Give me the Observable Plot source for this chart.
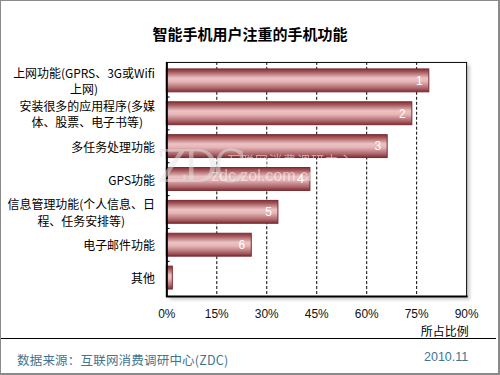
<!DOCTYPE html>
<html>
<head>
<meta charset="utf-8">
<script src="https://cdn.jsdelivr.net/npm/d3@7"></script>
<script src="https://cdn.jsdelivr.net/npm/@observablehq/plot@0.6"></script>
<style>
  html, body { margin: 0; padding: 0; background: #fff; }
  #wrap {
    position: relative; width: 500px; height: 375px; box-sizing: border-box;
    border-top: 1px solid #8a8a8a; border-left: 1px solid #8a8a8a;
    border-right: 2px solid #8a8a8a; border-bottom: 2px solid #8a8a8a;
    overflow: hidden; font-family: "Liberation Sans", Arial, "Noto Sans CJK SC", sans-serif;
  }
  #title {
    position: absolute; left: 0; top: 22px; width: 498px; text-align: center;
    font-family: "Noto Sans CJK SC", sans-serif; font-weight: bold; font-size: 15px; color: #000;
  }
  #chart { position: absolute; left: -1px; top: 47px; }
  #rule { position: absolute; left: 0; top: 337px; width: 495px; height: 0; border-top: 1px solid #000; }
  #src {
    position: absolute; left: 16px; top: 349px; font-size: 12.5px; color: #3f7590;
    font-family: "Noto Sans CJK SC", sans-serif; letter-spacing: 0.2px;
  }
  #date {
    position: absolute; left: 423px; top: 349px; font-size: 12.5px; color: #3f7590;
    font-family: "Liberation Sans", Arial, sans-serif;
  }
  .wm { position: absolute; pointer-events: none; white-space: nowrap; }
  #wm1 { left: 156px; top: 140px; font-size: 44px; font-family: "DejaVu Serif", serif; color: #e2e2e2; opacity: 0.5; letter-spacing: -5px; }
  #wm2 { left: 226px; top: 149px; font-size: 13px; font-family: "Noto Sans CJK SC", sans-serif; color: #fff; opacity: 0.5; letter-spacing: 1px; }
  #wm3 { left: 210px; top: 166px; font-size: 16px; color: #fff; opacity: 0.5; font-family: "Liberation Sans", Arial, sans-serif; }
</style>
</head>
<body>
<div id="wrap">
  <div id="title">智能手机用户注重的手机功能</div>
  <div id="chart"></div>
  <div id="rule"></div>
  <div id="src">数据来源：互联网消费调研中心(ZDC)</div>
  <div id="date">2010.11</div>
  <div id="wm1" class="wm">ZDC</div>
  <div id="wm2" class="wm">互联网消费调研中心</div>
  <div id="wm3" class="wm">zdc.zol.com.cn</div>
</div>
<script>
// Data
const categories = [
  "上网功能(GPRS、3G或Wifi\n上网)",
  "安装很多的应用程序(多媒\n体、股票、电子书等)",
  "多任务处理功能",
  "GPS功能",
  "信息管理功能(个人信息、日\n程、任务安排等)",
  "电子邮件功能",
  "其他"
];
const values = [78.8, 73.7, 66.3, 43.1, 33.5, 25.5, 1.8];
const ranks = ["1", "2", "3", "4", "5", "6", ""];
const xTicks = [0, 15, 30, 45, 60, 75, 90];
const gridTicks = [15, 30, 45, 60, 75];
const xLabel = "所占比例";

const data = categories.map((c, i) => ({category: c, value: values[i], rank: ranks[i]}));

const chart = Plot.plot({
  width: 500,
  height: 291,
  marginLeft: 167,
  marginRight: 32,
  marginTop: 14,
  marginBottom: 42,
  style: {fontFamily: "\"Liberation Sans\", Arial, \"Noto Sans CJK SC\", sans-serif", fontSize: "12px", background: "transparent", overflow: "visible"},
  x: {domain: [0, 90]},
  y: {domain: categories, paddingInner: 0.29, paddingOuter: 0.13},
  marks: [
    Plot.frame({fill: "#fff", stroke: "#000", strokeWidth: 1}),
    Plot.ruleX(gridTicks, {stroke: "#000", strokeDasharray: "3,2", strokeWidth: 1}),
    Plot.ruleY(categories.slice(1), {x1: 0, x2: 1, stroke: "#000", dy: -16.8}),
    Plot.barX(data, {y: "category", x: "value", fill: "url(#barGrad)", stroke: "#7a2a30", strokeWidth: 1}),
    Plot.text(data, {y: "category", x: "value", text: "rank", fill: "#fff", dx: -10, textAnchor: "middle", fontSize: 12}),
    Plot.ruleX([0], {stroke: "#000", strokeWidth: 2}),
    Plot.frame({anchor: "bottom", stroke: "#000", strokeWidth: 2}),
    Plot.axisX({ticks: xTicks, tickFormat: d => d + "%", tickSize: 0, tickPadding: 13, fontSize: 12, fill: "#111", label: null}),
    Plot.text([xLabel], {frameAnchor: "bottom-right", dy: 40, dx: 2, textAnchor: "end", fontSize: 12, fill: "#000", fontFamily: "Noto Sans CJK SC, sans-serif"}),
    Plot.axisY({tickSize: 0, tickPadding: 12, fontSize: 12, lineHeight: 1.36, fill: "#000", label: null, fontFamily: "Noto Sans CJK SC, \"Liberation Sans\", sans-serif"})
  ]
});

document.getElementById("chart").appendChild(chart);

// gradient for cylinder-shaded bars
const svg = d3.select(chart);
const defs = svg.insert("defs", ":first-child");
const grad = defs.append("linearGradient").attr("id", "barGrad").attr("x1", 0).attr("y1", 0).attr("x2", 0).attr("y2", 1);
[[0, "#85343a"], [0.12, "#a35458"], [0.4, "#ebc3c4"], [0.55, "#e6b6b8"], [0.85, "#ab6267"], [1, "#7c2f36"]]
  .forEach(([o, c]) => grad.append("stop").attr("offset", o).attr("stop-color", c));

// drop shadow on the plot frame
const shadow = defs.append("filter").attr("id", "sh").attr("x", "-5%").attr("y", "-5%").attr("width", "115%").attr("height", "115%");
shadow.append("feDropShadow").attr("dx", 3).attr("dy", 3).attr("stdDeviation", 1.5).attr("flood-color", "#000").attr("flood-opacity", 0.18);
svg.select("[aria-label=frame]").attr("filter", "url(#sh)");

// center multi-line y labels within a right-aligned block
svg.selectAll("[aria-label='y-axis tick label'] text").each(function() {
  const tspans = this.querySelectorAll("tspan");
  if (tspans.length > 1) {
    const w = this.getBBox().width;
    this.setAttribute("text-anchor", "middle");
    tspans.forEach(t => t.setAttribute("x", -w / 2));
  }
});
</script>
</body>
</html>
